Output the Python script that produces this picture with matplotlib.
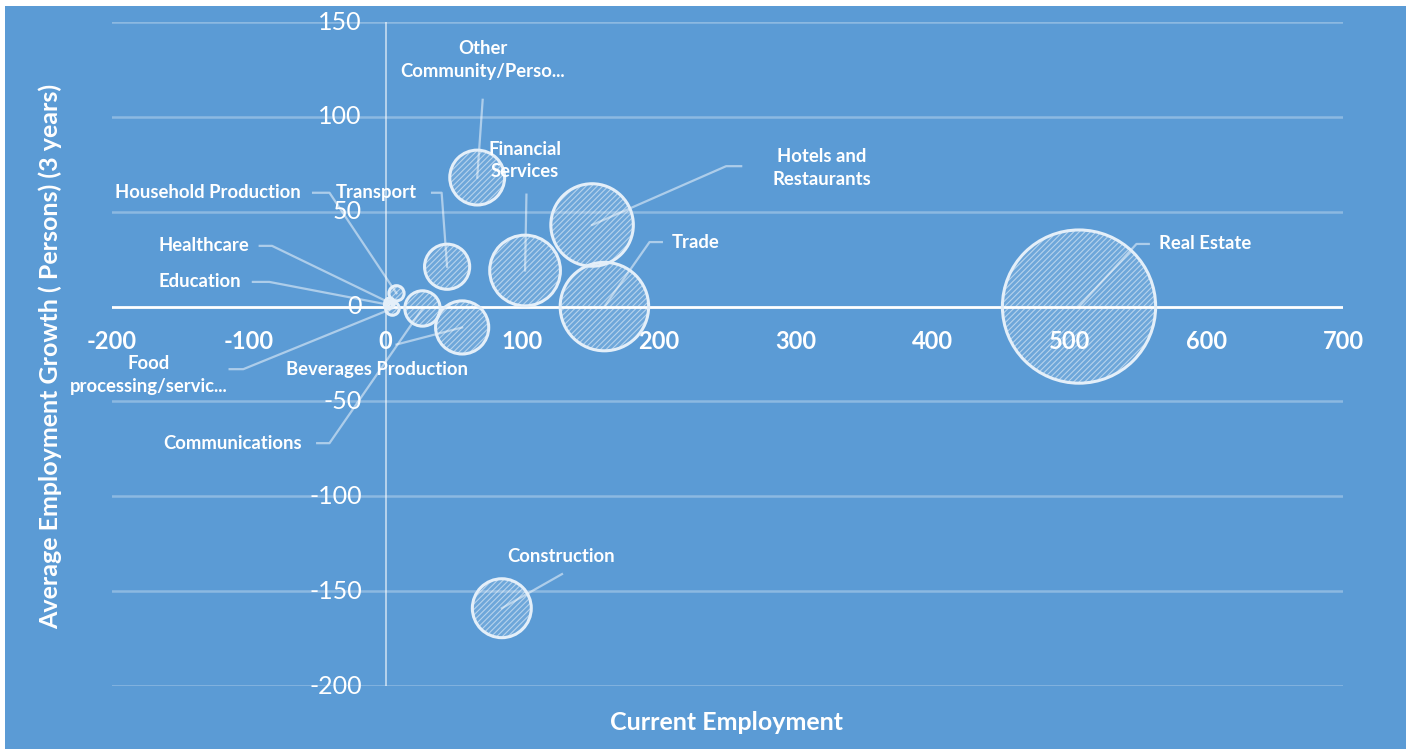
import matplotlib
matplotlib.use('Agg')
import matplotlib.pyplot as plt
from matplotlib.patches import Rectangle

# --- data ---
sectors = ['Real Estate', 'Trade', 'Hotels and\nRestaurants', 'Financial\nServices',
           'Other\nCommunity/Perso...', 'Transport', 'Beverages Production',
           'Communications', 'Construction', 'Household Production',
           'Healthcare', 'Education', 'Food\nprocessing/servic...']
current_emp = [507, 160, 151, 102, 67, 45, 56, 27, 85, 8, 3, 2, 5]
avg_growth = [0, 0, 43, 19, 68, 21, -11, -1, -159, 7, 2, 1, -1]
bubble_size = [507, 169, 147, 108, 65, 44, 61, 27, 75, 5, 2, 1.3, 4]

x_ticks = [-200, -100, 0, 100, 200, 300, 400, 500, 600, 700]
y_ticks = [-200, -150, -100, -50, 0, 50, 100, 150]

# label layout: text position, leader start, optional elbow (data units)
label_pos = [(599, 33), (227, 34), (319, 73), (102, 77), (71, 130), (-7, 60),
             (-6, -33), (-112, -72), (128, -132), (-130, 60), (-133, 32),
             (-136, 13), (-173, -36)]
leader_start = [(558, 33), (202, 34), (260, 74), (103, 59), (71, 109), (34, 60),
                (8, -20), (-50, -72), (129, -141), (-53, 60), (-92, 32),
                (-97, 13), (-114, -33)]
leader_elbow = [(549, 33), (193, 34), (249, 74), None, None, (41, 60),
                None, (-41, -72), None, (-41, 60), (-83, 32), (-85, 13), (-104, -33)]

BG = '#5B9BD5'
FONT = ['Lato', 'DejaVu Sans']

fig = plt.figure(figsize=(14.12, 7.49), dpi=100)
fig.patch.set_facecolor('white')
fig.patches.append(Rectangle((5 / 1412, 0), 1401 / 1412, 743 / 749,
                             transform=fig.transFigure, facecolor=BG,
                             edgecolor='none', zorder=-10))

ax = fig.add_axes([112 / 1412, 1 - 686 / 749, 1231 / 1412, 664 / 749])
ax.set_facecolor('none')
ax.set_xlim(-200, 700)
ax.set_ylim(-200, 150)
for s in ax.spines.values():
    s.set_visible(False)
ax.set_xticks([])
ax.set_yticks([])

# gridlines
for yv in y_ticks:
    if yv == 0:
        continue
    ax.axhline(yv, color='white', alpha=0.3, lw=1.8, zorder=1)
ax.axhline(0, color='white', lw=2.0, zorder=2)
ax.plot([0, 0], [-200, 150], color='white', alpha=0.6, lw=1.3, zorder=2)

# tick labels at the crossing axes
for xv in x_ticks:
    ax.annotate(str(xv), (xv, 0), xytext=(0, -25), textcoords='offset points',
                ha='center', va='center', color='white', fontsize=17,
                fontweight='bold', family=FONT, zorder=6)
for yv in y_ticks:
    ax.annotate(str(yv), (0, yv), xytext=(-17, 0), textcoords='offset points',
                ha='right', va='center', color='white', fontsize=18,
                fontweight='normal', family=FONT, zorder=6)

# leader lines (drawn under bubbles)
for i in range(len(sectors)):
    pts = [leader_start[i]]
    if leader_elbow[i] is not None:
        pts.append(leader_elbow[i])
    pts.append((current_emp[i], avg_growth[i]))
    ax.plot([p[0] for p in pts], [p[1] for p in pts], color='white',
            alpha=0.5, lw=1.6, zorder=3)

# bubbles
sizes = [b * 24.0 for b in bubble_size]
plt.rcParams['hatch.linewidth'] = 0.8
ax.scatter(current_emp, avg_growth, s=sizes, facecolor=(1, 1, 1, 0.12),
           edgecolor=(1, 1, 1, 0.5), linewidth=0, hatch='//////', zorder=4)
ax.scatter(current_emp, avg_growth, s=sizes, facecolor='none',
           edgecolor='#E4EFF9', linewidth=2.2, zorder=5)

# data labels
for i, name in enumerate(sectors):
    ax.text(label_pos[i][0], label_pos[i][1], name, ha='center', va='center',
            color='white', fontsize=13.3, fontweight='bold', family=FONT,
            linespacing=1.4, zorder=6)

# axis titles
fig.text(727 / 1412, 1 - 722 / 749, 'Current Employment', ha='center', va='center',
         color='white', fontsize=18, fontweight='bold', family=FONT)
fig.text(50 / 1412, 1 - 356 / 749, 'Average Employment Growth ( Persons) (3 years)',
         ha='center', va='center', rotation=90, color='white', fontsize=18,
         fontweight='bold', family=FONT)

fig.savefig('out.png', dpi=100, facecolor=fig.get_facecolor())
